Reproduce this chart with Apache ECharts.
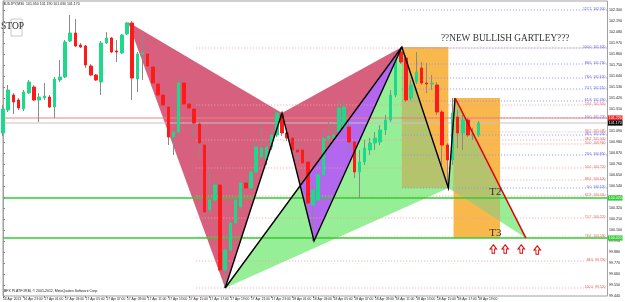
<!DOCTYPE html>
<html><head><meta charset="utf-8">
<script src="https://cdn.jsdelivr.net/npm/echarts@6/dist/echarts.min.js"></script>
<style>html,body{margin:0;padding:0;background:#fff}#c{width:625px;height:302px}</style>
</head><body><div id="c"></div>
<script>
// ---------- data ----------
const tickLabels = ['16 Apr 2013','16 Apr 23:00','17 Apr 01:00','17 Apr 03:00','17 Apr 05:00','17 Apr 07:00','17 Apr 09:00','17 Apr 11:00','17 Apr 13:00','17 Apr 15:00','17 Apr 17:00','17 Apr 19:00','17 Apr 21:00','17 Apr 23:00','18 Apr 01:00','18 Apr 03:00','18 Apr 05:00','18 Apr 07:00','18 Apr 09:00','18 Apr 11:00','18 Apr 13:00','18 Apr 15:00','18 Apr 17:00','18 Apr 19:00'];
const opens  = [101.07,101.30,101.45,101.40,101.31,101.47,101.53,101.40,101.42,101.43,101.33,101.60,101.63,101.99,102.07,101.95,101.94,101.74,101.65,101.58,101.97,102.02,101.89,101.87,102.06,102.17,101.61,101.86,101.86,101.73,101.56,101.45,101.33,101.03,101.08,101.57,101.36,101.31,101.16,100.95,100.30,100.40,100.55,99.70,99.90,100.17,100.33,100.57,100.52,100.68,100.83,100.80,100.93,101.05,101.26,101.07,101.02,100.90,100.90,100.78,100.35,100.40,100.65,101.01,101.02,101.08,101.13,101.13,100.98,100.68,100.78,100.90,100.97,100.98,101.10,101.20,101.45,101.88,101.82,101.42,101.58,101.72,101.57,101.56,101.55,101.28,100.95,100.80,101.23,101.07,101.20,101.05,101.05];
const closes = [101.31,101.50,101.38,101.32,101.48,101.58,101.40,101.43,101.44,101.33,101.61,101.63,101.98,102.07,101.94,101.93,101.75,101.65,101.60,101.97,102.02,101.88,101.88,102.05,102.17,101.62,101.86,101.87,101.74,101.57,101.45,101.35,101.03,101.08,101.57,101.36,101.32,101.17,100.97,100.28,100.40,100.55,99.70,99.90,100.17,100.40,100.57,100.52,100.68,100.93,100.92,100.93,101.05,101.27,101.07,101.02,100.90,100.88,100.77,100.37,100.50,100.65,101.02,101.04,101.05,101.32,101.33,100.98,100.68,100.78,100.92,100.97,101.02,101.10,101.20,101.45,101.80,101.78,101.40,101.55,101.68,101.57,101.56,101.57,101.28,100.95,100.80,101.27,101.07,101.20,101.05,101.06,101.17];
const lows   = [101.04,101.28,101.26,101.30,101.29,101.46,101.39,101.18,101.40,101.32,101.22,101.58,101.62,101.98,101.93,101.92,101.72,101.64,101.59,101.45,101.96,101.87,101.78,101.86,102.05,101.40,101.48,101.60,101.73,101.56,101.44,101.34,100.95,100.85,101.07,101.34,101.30,101.03,100.83,100.25,100.27,100.38,99.68,99.52,99.88,100.15,100.30,100.48,100.50,100.66,100.80,100.75,100.90,101.03,101.04,100.99,100.88,100.80,100.75,100.25,99.99,100.38,100.63,100.90,100.95,101.06,101.10,100.90,100.62,100.42,100.75,100.85,100.90,100.95,101.05,101.18,101.43,101.76,101.38,101.40,101.56,101.55,101.47,101.50,101.25,100.75,100.52,100.75,100.92,100.90,101.03,101.00,101.03];
const highs  = [101.35,101.55,101.47,101.42,101.50,101.60,101.55,101.47,101.57,101.45,101.63,101.80,102.00,102.25,102.21,101.97,101.95,101.76,101.66,101.99,102.08,102.03,102.00,102.06,102.18,102.19,101.88,102.05,101.88,101.74,101.57,101.46,101.35,101.10,101.63,101.60,101.37,101.32,101.20,100.97,100.70,100.60,100.57,99.92,100.20,100.42,100.60,100.60,100.72,101.00,101.15,101.00,101.10,101.28,101.27,101.09,101.04,101.00,100.92,100.80,100.55,100.70,101.10,101.20,101.15,101.40,101.40,101.20,101.00,100.90,101.00,101.02,101.08,101.15,101.25,101.50,101.88,101.93,101.85,101.60,101.88,101.78,101.77,101.65,101.58,101.30,100.97,101.42,101.30,101.25,101.22,101.12,101.19];

// pattern pivots (bar position, price): X1 A1 B1 C1 D1 B2 C2 D2
const pivotIdx   = [24.2, 43.0, 54.0, 60.2, 77.2, 86.2, 87.5, 101.2];
const pivotPrice = [102.18, 99.52, 101.27, 99.99, 101.93, 100.52, 101.42, 100.02];
// projection boxes: [leftIdx, rightIdx, lowPrice, highPrice]
const box1 = [77.2, 86.2, 100.52, 101.93];
const box2 = [87.2, 96.2, 100.02, 101.42];

// fibonacci levels
const pinkFibLevels = ['0.0','23.6','38.2','50.0','61.8','70.7','78.6','88.6','100.0'];
const pinkFibPrices = [101.92,101.35,101.00,100.72,100.44,100.22,100.03,99.79,99.52];
const bcFibLevels   = ['38.2','50.0','88.6'];
const bcFibPrices   = [101.08,100.96,100.60];
const blueFibLevels = ['0.0','23.6','38.2','50.0','61.8','70.7','78.6','88.6','100.0','127.2'];
const blueFibPrices = [100.52,100.85,101.05,101.22,101.39,101.51,101.62,101.76,101.92,102.30];
const pinkFibStart = 37.4, bcFibStart = 86.2, blueFibStart = 77.2;

// horizontal price lines
const hLinePrices = [101.22, 101.17, 100.42, 100.02];
// target arrows
const arrowIdx   = [94.9, 97.2, 100.3, 103.4];
const arrowPrice = [99.91, 99.91, 99.91, 99.90];
// annotations
const annText  = ['??NEW BULLISH GARTLEY???', 'T2', 'T3'];
const annIdx   = [97.2, 95.3, 95.3];
const annPrice = [102.01, 100.48, 100.07];

// ---------- helpers ----------
const NCAT = 118;
const categories = [];
for (let i = 0; i < NCAT; i++) categories.push(i % 4 === 0 && i / 4 < tickLabels.length ? tickLabels[i / 4] : 'c' + i);
const candleData = opens.map((o, i) => [o, closes[i], lows[i], highs[i]]);
// bodies only (no wick) drawn over grey full-range wicks
const bodyData = opens.map((o, i) => [o, closes[i], Math.min(o, closes[i]), Math.max(o, closes[i])]);
const P = pivotIdx.map((x, i) => [x, pivotPrice[i]]);
const [X1, A1, B1, C1, D1, B2, C2, D2] = P;
const rectPoly = b => [[b[0], b[3]], [b[1], b[3]], [b[1], b[2]], [b[0], b[2]]];

function clipPoly(subject, clip) {
  let area = 0;
  for (let i = 0; i < clip.length; i++) { const a = clip[i], b = clip[(i + 1) % clip.length]; area += a[0] * b[1] - b[0] * a[1]; }
  const s = Math.sign(area);
  let out = subject.slice();
  for (let i = 0; i < clip.length && out.length; i++) {
    const a = clip[i], b = clip[(i + 1) % clip.length];
    const inside = p => s * ((b[0] - a[0]) * (p[1] - a[1]) - (b[1] - a[1]) * (p[0] - a[0])) >= 0;
    const inter = (p, q) => {
      const a1 = q[1] - p[1], b1 = p[0] - q[0], c1 = a1 * p[0] + b1 * p[1];
      const a2 = b[1] - a[1], b2 = a[0] - b[0], c2 = a2 * a[0] + b2 * a[1];
      const det = a1 * b2 - a2 * b1;
      return [(b2 * c1 - b1 * c2) / det, (a1 * c2 - a2 * c1) / det];
    };
    const inp = out; out = [];
    for (let j = 0; j < inp.length; j++) {
      const cur = inp[j], prev = inp[(j + inp.length - 1) % inp.length];
      if (inside(cur)) { if (!inside(prev)) out.push(inter(prev, cur)); out.push(cur); }
      else if (inside(prev)) out.push(inter(prev, cur));
    }
  }
  return out;
}

const PINK = '#d6607e', GREEN = '#96ee96', PURPLE = '#b366ee', ORANGE = '#f8b84c', OLIVE = '#b4c46c';
const triPinkXAB = [X1, A1, B1], triPinkBCD = [B1, C1, D1], triGreenXAB = [A1, D1, B2], triGreenBCD = [B2, C2, D2];
const fills = [
  { pts: triPinkXAB, color: PINK },
  { pts: triPinkBCD, color: PINK },
  { pts: triGreenXAB, color: GREEN },
  { pts: triGreenBCD, color: GREEN },
  { pts: clipPoly(triPinkBCD, triGreenXAB), color: PURPLE },
  { pts: rectPoly(box1), color: ORANGE },
  { pts: rectPoly(box2), color: ORANGE },
  { pts: clipPoly(rectPoly(box1), triGreenXAB), color: OLIVE },
  { pts: clipPoly(rectPoly(box2), triGreenBCD), color: OLIVE }
].filter(f => f.pts.length > 2);

const paths = [
  { pts: [A1, B1, C1, D1], color: '#000', w: 1.4 },
  { pts: [A1, D1, B2, C2], color: '#000', w: 1.4 },
  { pts: [C2, D2], color: '#e00000', w: 1.6 }
];

const fibs = [];
pinkFibLevels.forEach((l, i) => fibs.push({ start: pinkFibStart, price: pinkFibPrices[i], level: l, line: '#f2a0a0', text: '#e06464', label: l !== '0.0' }));
bcFibLevels.forEach((l, i) => fibs.push({ start: bcFibStart, price: bcFibPrices[i], level: l, line: '#f2a0a0', text: '#e06464', label: true }));
blueFibLevels.forEach((l, i) => fibs.push({ start: blueFibStart, price: blueFibPrices[i], level: l, line: '#8f8fff', text: '#5a5ae6', label: true }));

const hLineStyle = [
  { line: '#f08080', w: 1, tag: '#ff2020' },
  { line: '#c4c4c4', w: 1, tag: '#000000' },
  { line: '#33cc33', w: 1.5, tag: '#33cc33' },
  { line: '#33cc33', w: 1.5, tag: '#33cc33' }
];
const annStyle = [
  { size: 9.3, color: '#333' }, { size: 11, color: '#333' }, { size: 11, color: '#333' }
];

const SMALL = 'Liberation Sans';
const SERIF = 'Liberation Serif';
const last = candleData[candleData.length - 1];
const titleVals = [last[0], last[3], last[2], last[1]].map(v => v.toFixed(3)).join(' ');

const chart = echarts.init(document.getElementById('c'), null, { renderer: 'canvas' });
chart.setOption({
  animation: false,
  backgroundColor: '#fff',
  grid: { left: 1.5, right: 15, top: 1, bottom: 6, show: true, borderColor: '#a0a0a0', borderWidth: 1, backgroundColor: '#fff' },
  xAxis: [
    {
      type: 'category', data: categories, boundaryGap: false,
      axisLine: { show: false },
      axisTick: { show: true, length: 2, lineStyle: { color: '#888' }, interval: i => i % 4 === 0 && i / 4 < tickLabels.length },
      axisLabel: { interval: i => i % 4 === 0 && i / 4 < tickLabels.length, align: 'left', fontSize: 3.3, color: '#222', margin: 1.5, fontFamily: SMALL },
      splitLine: { show: false }
    },
    { type: 'value', min: 0, max: NCAT - 1, show: false }
  ],
  yAxis: {
    type: 'value', position: 'right', min: 99.44, max: 102.39, interval: 0.11, scale: true,
    axisLine: { show: true, lineStyle: { color: '#a0a0a0' } },
    axisTick: { show: true, length: 2, lineStyle: { color: '#888' } },
    axisLabel: { fontSize: 3.6, color: '#222', margin: 1.5, fontFamily: SMALL, formatter: v => v.toFixed(3), showMaxLabel: false },
    splitLine: { show: false }
  },
  graphic: [
    { type: 'text', left: 3, top: 2, style: { text: 'AUDJPY,M30  ' + titleVals, fontSize: 3.5, fill: '#222', fontFamily: SMALL } },
    { type: 'text', left: 3, top: 289.5, style: { text: 'IBFX PLATFORM, \u00a9 2001-2012, MetaQuotes Software Corp.', fontSize: 3.5, fill: '#222', fontFamily: SMALL } },
    { type: 'rect', shape: { x: 11, y: 19, width: 11, height: 17 }, style: { fill: 'none', stroke: '#c8c8c8', lineWidth: 1 } },
    { type: 'text', left: 1, top: 21, style: { text: 'STOP', fontSize: 9.5, fill: '#222', fontFamily: SERIF } }
  ],
  series: [
    {
      type: 'custom', name: 'fills', xAxisIndex: 1, yAxisIndex: 0, z: 1, silent: true,
      data: fills.map(f => f.pts[0]),
      renderItem: (params, api) => {
        const f = fills[params.dataIndex];
        return { type: 'polygon', shape: { points: f.pts.map(p => api.coord(p)) }, style: { fill: f.color, stroke: null } };
      }
    },
    {
      type: 'custom', name: 'fib', xAxisIndex: 1, yAxisIndex: 0, z: 2, silent: true,
      data: fibs.map(f => [f.start, f.price]),
      renderItem: (params, api) => {
        const f = fibs[params.dataIndex];
        const a = api.coord([f.start, f.price]), b = api.coord([NCAT - 1, f.price]);
        const kids = [{ type: 'line', shape: { x1: a[0], y1: a[1], x2: b[0], y2: b[1] }, style: { stroke: f.line, lineWidth: 1, lineDash: [1, 2] } }];
        if (f.label) kids.push({ type: 'text', x: b[0] - 2, y: a[1] + 0.3, style: { text: f.level + '  ' + f.price.toFixed(3), fill: f.text, fontSize: 3.4, fontFamily: SMALL, align: 'right', verticalAlign: 'bottom' } });
        return { type: 'group', children: kids };
      }
    },
    {
      type: 'custom', name: 'hlines', xAxisIndex: 1, yAxisIndex: 0, z: 3, silent: true,
      data: hLinePrices.map(p => [0, p]),
      renderItem: (params, api) => {
        const i = params.dataIndex, s = hLineStyle[i], p = hLinePrices[i];
        const a = api.coord([0, p]), b = api.coord([NCAT - 1, p]);
        return { type: 'group', children: [
          { type: 'line', shape: { x1: a[0], y1: a[1], x2: b[0], y2: b[1] }, style: { stroke: s.line, lineWidth: s.w } },
          { type: 'rect', shape: { x: b[0] + 0.5, y: a[1] - 2.6, width: 14.5, height: 5.2 }, style: { fill: s.tag } },
          { type: 'text', x: b[0] + 1.3, y: a[1], style: { text: p.toFixed(3), fill: '#fff', fontSize: 3.6, fontFamily: SMALL, verticalAlign: 'middle', align: 'left' } }
        ] };
      }
    },
    {
      type: 'candlestick', name: 'wicks', xAxisIndex: 0, yAxisIndex: 0, z: 4, barWidth: 1,
      data: candleData,
      itemStyle: { color: '#8a8a8a', color0: '#8a8a8a', borderColor: '#8a8a8a', borderColor0: '#8a8a8a', borderWidth: 1 }
    },
    {
      type: 'candlestick', name: 'AUDJPY', xAxisIndex: 0, yAxisIndex: 0, z: 5, barWidth: 3,
      data: bodyData,
      itemStyle: { color: '#1ed98b', color0: '#ff1a1a', borderColor: '#1ed98b', borderColor0: '#ff1a1a', borderWidth: 1 }
    },
    {
      type: 'custom', name: 'pattern', xAxisIndex: 1, yAxisIndex: 0, z: 6, silent: true,
      data: paths.map(p => p.pts[0]),
      renderItem: (params, api) => {
        const p = paths[params.dataIndex];
        return { type: 'polyline', shape: { points: p.pts.map(q => api.coord(q)) }, style: { stroke: p.color, lineWidth: p.w, fill: null } };
      }
    },
    {
      type: 'scatter', name: 'arrows', xAxisIndex: 1, yAxisIndex: 0, z: 7, silent: true,
      data: arrowIdx.map((x, i) => [x, arrowPrice[i]]),
      symbol: 'path://M5 0 L10 5 L7 5 L7 10 L3 10 L3 5 L0 5 Z', symbolSize: [6.5, 8.5],
      itemStyle: { color: '#fff', borderColor: '#e00000', borderWidth: 1, opacity: 1 }
    },
    {
      type: 'custom', name: 'notes', xAxisIndex: 1, yAxisIndex: 0, z: 8, silent: true,
      data: annIdx.map((x, i) => [x, annPrice[i]]),
      renderItem: (params, api) => {
        const i = params.dataIndex, c = api.coord([annIdx[i], annPrice[i]]);
        return { type: 'text', x: c[0], y: c[1], style: { text: annText[i], fill: annStyle[i].color, fontSize: annStyle[i].size, fontFamily: SERIF, align: 'center', verticalAlign: 'middle' } };
      }
    }
  ]
});
</script></body></html>
